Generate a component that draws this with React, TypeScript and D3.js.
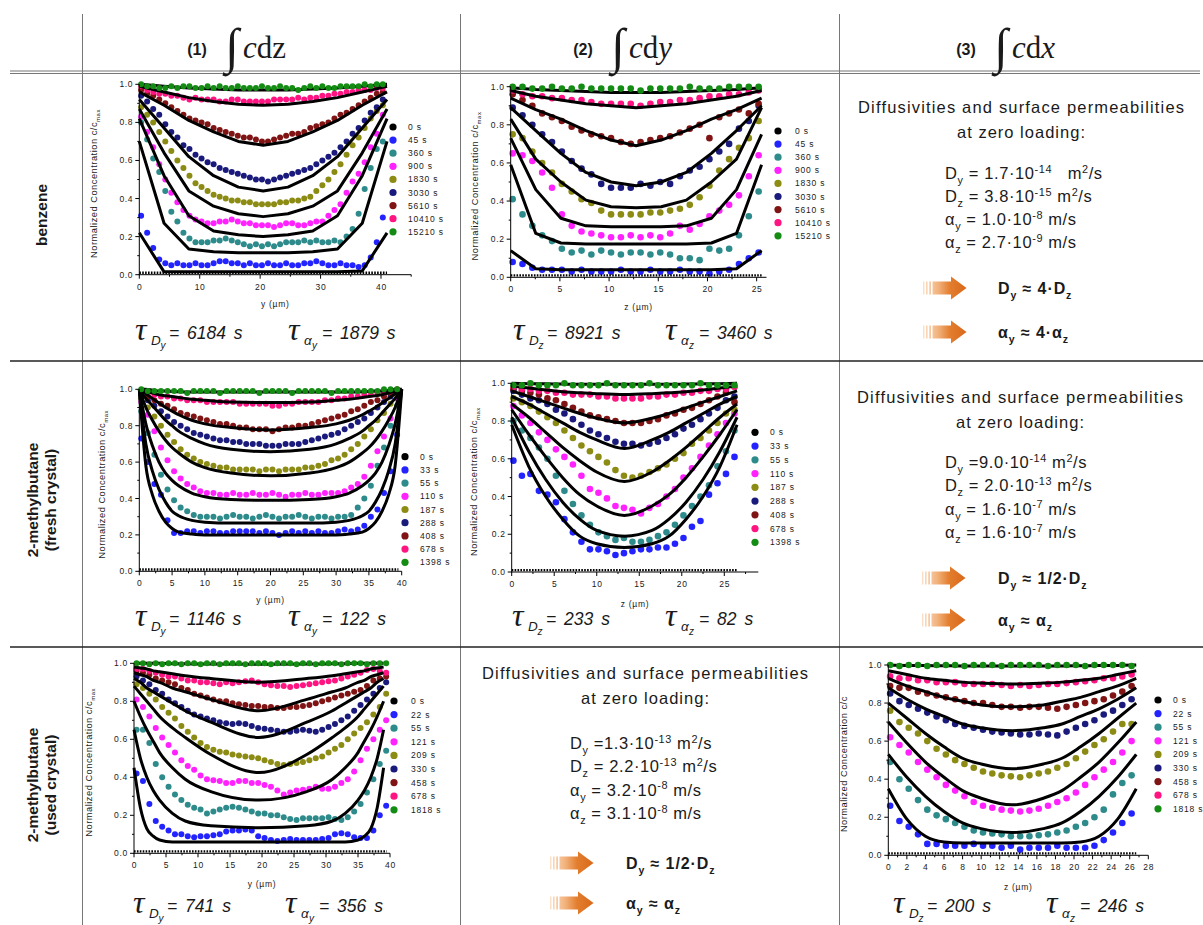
import React from "react";
import * as d3 from "d3";

const SANS = "'Liberation Sans', Arial, Helvetica, sans-serif";
const SERIF = "'Liberation Serif', 'Times New Roman', serif";
const NARROW = "'Liberation Sans Narrow', 'Arial Narrow', 'Liberation Sans', sans-serif";

const seriesColors = ["#000000", "#2323ff", "#2e8b8b", "#ff22ff", "#8c8c14", "#1a1a7d", "#801414", "#ff1482", "#148c14"];

const timesBenzene = ["0 s", "45 s", "360 s", "900 s", "1830 s", "3030 s", "5610 s", "10410 s", "15210 s"];
const timesFresh = ["0 s", "33 s", "55 s", "110 s", "187 s", "288 s", "408 s", "678 s", "1398 s"];
const timesUsed = ["0 s", "22 s", "55 s", "121 s", "209 s", "330 s", "458 s", "678 s", "1818 s"];

const yTickValues = [0, 0.2, 0.4, 0.6, 0.8, 1.0];

// ---------- Panel 1: benzene, integral c dz, profile along y ----------
const p1Grid = d3.range(0.3, 41, 1);
const p1_45 = [0.31,0.22,0.14,0.08,0.06,0.05,0.06,0.05,0.05,0.06,0.05,0.05,0.06,0.07,0.07,0.06,0.06,0.05,0.06,0.05,0.05,0.06,0.05,0.05,0.06,0.05,0.05,0.06,0.06,0.07,0.06,0.05,0.05,0.06,0.05,0.05,0.04,0.05,0.09,0.17,0.30];
const p1_360 = [0.80,0.71,0.61,0.54,0.44,0.33,0.28,0.22,0.19,0.17,0.17,0.17,0.18,0.18,0.19,0.18,0.17,0.16,0.15,0.16,0.15,0.16,0.15,0.16,0.17,0.17,0.17,0.18,0.17,0.18,0.17,0.17,0.18,0.17,0.20,0.24,0.32,0.45,0.56,0.66,0.70];
const p1_900 = [0.83,0.75,0.67,0.58,0.50,0.43,0.38,0.34,0.31,0.29,0.28,0.27,0.27,0.28,0.28,0.29,0.28,0.27,0.27,0.26,0.26,0.26,0.25,0.26,0.27,0.27,0.26,0.26,0.27,0.28,0.28,0.31,0.34,0.37,0.43,0.49,0.53,0.59,0.67,0.74,0.84];
const p1_1830 = [0.88,0.84,0.80,0.75,0.70,0.65,0.60,0.56,0.52,0.48,0.46,0.44,0.42,0.41,0.40,0.39,0.39,0.38,0.38,0.37,0.37,0.37,0.37,0.38,0.38,0.39,0.39,0.40,0.41,0.44,0.47,0.50,0.54,0.58,0.63,0.68,0.72,0.77,0.82,0.86,0.89];
const p1_3030 = [0.94,0.91,0.87,0.84,0.79,0.75,0.72,0.68,0.66,0.63,0.61,0.59,0.58,0.56,0.55,0.54,0.53,0.52,0.51,0.50,0.50,0.49,0.50,0.51,0.52,0.53,0.54,0.55,0.56,0.58,0.60,0.62,0.64,0.67,0.70,0.74,0.77,0.81,0.85,0.88,0.92];
const p1_5610 = [0.97,0.95,0.94,0.92,0.90,0.88,0.86,0.84,0.82,0.81,0.80,0.79,0.77,0.76,0.75,0.74,0.73,0.72,0.72,0.71,0.70,0.70,0.71,0.72,0.73,0.74,0.74,0.75,0.77,0.78,0.79,0.80,0.82,0.84,0.85,0.87,0.89,0.91,0.93,0.95,0.96];
const p1_10410 = [0.99,0.97,0.96,0.95,0.95,0.94,0.94,0.93,0.92,0.93,0.92,0.92,0.92,0.91,0.91,0.92,0.92,0.91,0.91,0.91,0.91,0.91,0.92,0.92,0.92,0.92,0.93,0.92,0.93,0.93,0.94,0.94,0.95,0.95,0.96,0.96,0.97,0.97,0.97,0.98,0.98];
const p1_15210 = [1.00,0.99,0.99,0.98,0.98,0.99,0.98,0.99,0.99,0.98,0.98,0.99,0.98,0.99,0.98,0.98,0.99,0.98,0.98,0.98,0.99,0.98,0.98,0.99,0.98,0.98,0.97,0.98,0.99,0.98,0.99,0.98,0.98,0.99,0.99,0.99,0.99,1.00,0.99,1.00,1.00];
const p1FitX = [0, 4.1, 8.2, 12.3, 16.4, 20.5, 24.6, 28.7, 32.8, 36.9, 41];
const p1f_45 = [0.22,0.015,0.015,0.015,0.015,0.015,0.015,0.015,0.015,0.02,0.22];
const p1f_360 = [0.70,0.27,0.135,0.12,0.115,0.115,0.115,0.12,0.135,0.27,0.70];
const p1f_900 = [0.82,0.52,0.31,0.23,0.21,0.20,0.21,0.23,0.31,0.52,0.82];
const p1f_1830 = [0.87,0.64,0.44,0.36,0.32,0.305,0.32,0.36,0.44,0.64,0.87];
const p1f_3030 = [0.92,0.77,0.62,0.52,0.46,0.44,0.46,0.52,0.62,0.77,0.92];
const p1f_5610 = [0.96,0.89,0.81,0.75,0.70,0.68,0.70,0.75,0.81,0.89,0.96];
const p1f_10410 = [0.99,0.96,0.93,0.91,0.895,0.89,0.895,0.91,0.93,0.96,0.99];
const p1f_15210 = [1.0,0.99,0.98,0.975,0.97,0.97,0.97,0.975,0.98,0.99,1.0];
const p1ZeroX = [0, 41];
const p1ZeroY = [0.01, 0.01];

// ---------- Panel 2: benzene, integral c dy, profile along z ----------
const p2Grid = d3.range(0.2, 26, 1);
const p2_45 = [0.08,0.07,0.05,0.04,0.04,0.04,0.03,0.04,0.03,0.03,0.03,0.04,0.03,0.03,0.04,0.03,0.03,0.04,0.03,0.03,0.02,0.03,0.04,0.07,0.10,0.13];
const p2_360 = [0.41,0.33,0.27,0.22,0.19,0.15,0.13,0.14,0.12,0.14,0.13,0.12,0.13,0.13,0.12,0.13,0.12,0.10,0.10,0.09,0.15,0.14,0.15,0.22,0.32,0.45];
const p2_900 = [0.65,0.64,0.61,0.55,0.47,0.33,0.27,0.24,0.23,0.22,0.21,0.21,0.22,0.21,0.22,0.21,0.23,0.27,0.25,0.28,0.32,0.35,0.38,0.43,0.53,0.64];
const p2_1830 = [0.75,0.73,0.66,0.60,0.55,0.49,0.45,0.41,0.39,0.35,0.33,0.33,0.33,0.33,0.34,0.34,0.35,0.36,0.38,0.42,0.48,0.56,0.62,0.68,0.73,0.82];
const p2_3030 = [0.89,0.85,0.80,0.75,0.71,0.66,0.61,0.57,0.54,0.49,0.47,0.47,0.47,0.49,0.48,0.50,0.49,0.53,0.56,0.58,0.62,0.66,0.70,0.78,0.82,0.90];
const p2_5610 = [0.96,0.93,0.90,0.86,0.84,0.82,0.79,0.77,0.75,0.74,0.73,0.71,0.70,0.71,0.72,0.73,0.74,0.76,0.78,0.80,0.73,0.84,0.86,0.88,0.86,0.91];
const p2_10410 = [0.98,0.96,0.95,0.95,0.94,0.94,0.93,0.93,0.92,0.91,0.91,0.91,0.91,0.90,0.91,0.92,0.92,0.93,0.93,0.94,0.95,0.95,0.96,0.96,0.97,0.98];
const p2_15210 = [1.00,1.00,0.99,0.99,1.00,0.99,0.99,1.00,0.99,0.99,0.99,0.99,0.99,0.98,0.99,0.99,0.99,0.99,1.00,0.99,0.99,0.99,1.00,1.00,1.00,1.00];
const p2FitX = [0, 2.55, 5.1, 7.65, 10.2, 12.75, 15.3, 17.85, 20.4, 22.95, 25.5];
const p2f_45 = [0.14,0.045,0.04,0.04,0.04,0.04,0.04,0.04,0.04,0.045,0.14];
const p2f_360 = [0.59,0.23,0.18,0.175,0.175,0.175,0.175,0.175,0.18,0.23,0.59];
const p2f_900 = [0.73,0.46,0.31,0.27,0.265,0.265,0.265,0.27,0.31,0.46,0.75];
const p2f_1830 = [0.83,0.62,0.50,0.405,0.37,0.365,0.37,0.405,0.50,0.62,0.89];
const p2f_3030 = [0.89,0.77,0.65,0.55,0.50,0.48,0.50,0.55,0.65,0.77,0.90];
const p2f_5610 = [0.94,0.88,0.83,0.77,0.72,0.69,0.72,0.77,0.83,0.88,0.94];
const p2f_10410 = [0.98,0.95,0.93,0.91,0.90,0.89,0.90,0.91,0.93,0.95,0.98];
const p2f_15210 = [0.995,0.985,0.98,0.975,0.97,0.97,0.97,0.975,0.98,0.985,0.995];
const p2ZeroX = [0, 25.5];
const p2ZeroY = [0.01, 0.01];

// ---------- Panel 3: 2-methylbutane fresh, integral c dz ----------
const p3Grid = d3.range(0.3, 40, 1);
const p3_33 = [0.73,0.60,0.48,0.42,0.28,0.21,0.21,0.22,0.22,0.21,0.22,0.22,0.21,0.21,0.22,0.22,0.22,0.22,0.21,0.22,0.21,0.20,0.21,0.22,0.21,0.22,0.21,0.22,0.21,0.21,0.22,0.23,0.22,0.23,0.25,0.30,0.34,0.43,0.55,0.75];
const p3_55 = [0.88,0.76,0.64,0.53,0.45,0.39,0.35,0.33,0.31,0.30,0.30,0.30,0.29,0.30,0.31,0.30,0.30,0.29,0.30,0.31,0.30,0.29,0.30,0.30,0.31,0.30,0.29,0.30,0.30,0.29,0.30,0.30,0.31,0.35,0.40,0.47,0.58,0.68,0.80,0.91];
const p3_110 = [0.93,0.86,0.77,0.68,0.61,0.55,0.51,0.48,0.46,0.44,0.43,0.43,0.42,0.42,0.43,0.42,0.42,0.43,0.42,0.42,0.43,0.42,0.41,0.42,0.42,0.43,0.42,0.42,0.43,0.43,0.43,0.44,0.46,0.48,0.52,0.58,0.66,0.74,0.84,0.95];
const p3_187 = [0.95,0.90,0.85,0.80,0.75,0.71,0.67,0.64,0.62,0.60,0.59,0.58,0.57,0.57,0.56,0.56,0.56,0.56,0.55,0.56,0.56,0.55,0.56,0.56,0.56,0.57,0.57,0.58,0.59,0.61,0.62,0.64,0.67,0.70,0.74,0.78,0.83,0.87,0.92,0.97];
const p3_288 = [0.97,0.94,0.91,0.88,0.85,0.82,0.80,0.78,0.76,0.75,0.74,0.73,0.72,0.72,0.71,0.71,0.70,0.70,0.70,0.69,0.69,0.69,0.70,0.70,0.70,0.71,0.72,0.73,0.74,0.75,0.76,0.78,0.80,0.82,0.84,0.87,0.90,0.93,0.96,0.99];
const p3_408 = [0.98,0.96,0.94,0.92,0.91,0.89,0.87,0.86,0.85,0.84,0.83,0.82,0.81,0.81,0.80,0.79,0.79,0.78,0.78,0.78,0.77,0.78,0.79,0.79,0.80,0.80,0.81,0.82,0.83,0.84,0.85,0.86,0.88,0.89,0.91,0.93,0.94,0.96,0.98,1.00];
const p3_678 = [0.99,0.98,0.97,0.96,0.96,0.95,0.95,0.94,0.94,0.94,0.93,0.93,0.93,0.93,0.93,0.92,0.92,0.92,0.92,0.92,0.91,0.91,0.92,0.92,0.93,0.93,0.93,0.93,0.94,0.94,0.95,0.95,0.96,0.96,0.97,0.97,0.98,0.98,0.99,0.99];
const p3_1398 = [1.00,0.99,0.99,0.99,0.99,0.99,0.99,0.98,0.99,0.99,0.99,0.99,0.98,0.99,0.99,0.99,0.99,0.99,0.98,0.99,0.99,0.99,0.99,0.98,0.99,0.99,0.99,0.99,0.99,0.98,0.99,0.99,0.99,0.99,0.99,0.99,0.99,1.00,1.00,1.00];
const p3FitX = [0, 1, 2, 3, 4, 5, 6, 8, 10, 14, 20, 26, 30, 32, 34, 35, 36, 37, 38, 39, 40];
const p3f_33 = [1.0,0.58,0.42,0.33,0.27,0.235,0.215,0.205,0.20,0.20,0.20,0.20,0.20,0.205,0.215,0.235,0.27,0.33,0.42,0.58,1.0];
const p3f_55 = [1.0,0.70,0.55,0.45,0.38,0.33,0.305,0.28,0.27,0.265,0.265,0.265,0.27,0.28,0.305,0.33,0.38,0.45,0.55,0.70,1.0];
const p3f_110 = [1.0,0.81,0.69,0.60,0.54,0.50,0.47,0.43,0.41,0.395,0.39,0.395,0.41,0.43,0.47,0.50,0.54,0.60,0.69,0.81,1.0];
const p3f_187 = [1.0,0.90,0.83,0.77,0.72,0.68,0.65,0.60,0.57,0.54,0.525,0.54,0.57,0.60,0.65,0.68,0.72,0.77,0.83,0.90,1.0];
const p3f_288 = [1.0,0.95,0.91,0.87,0.83,0.80,0.77,0.73,0.70,0.67,0.657,0.67,0.70,0.73,0.77,0.80,0.83,0.87,0.91,0.95,1.0];
const p3f_408 = [1.0,0.975,0.95,0.925,0.90,0.88,0.86,0.83,0.81,0.79,0.777,0.79,0.81,0.83,0.86,0.88,0.90,0.925,0.95,0.975,1.0];
const p3f_678 = [1.0,0.99,0.98,0.97,0.965,0.96,0.955,0.945,0.94,0.93,0.927,0.93,0.94,0.945,0.955,0.96,0.965,0.97,0.98,0.99,1.0];
const p3f_1398 = [1.0,1.0,0.995,0.99,0.99,0.988,0.986,0.985,0.985,0.985,0.985,0.985,0.985,0.985,0.986,0.988,0.99,0.99,0.995,1.0,1.0];
const p3ZeroX = [0, 39.5];
const p3ZeroY = [0.01, 0.01];

// ---------- Panel 4: 2-methylbutane fresh, integral c dy ----------
const p4Grid = d3.range(0.2, 27, 1);
const p4_33 = [0.59,0.51,0.52,0.43,0.41,0.37,0.28,0.21,0.16,0.12,0.12,0.11,0.09,0.10,0.11,0.12,0.12,0.13,0.13,0.15,0.18,0.24,0.27,0.41,0.47,0.52,0.61];
const p4_55 = [0.80,0.75,0.71,0.66,0.60,0.51,0.43,0.36,0.30,0.25,0.21,0.19,0.17,0.18,0.16,0.16,0.17,0.19,0.21,0.25,0.30,0.35,0.40,0.46,0.56,0.64,0.75];
const p4_110 = [0.88,0.83,0.79,0.74,0.70,0.65,0.61,0.57,0.51,0.44,0.42,0.39,0.35,0.34,0.33,0.31,0.34,0.36,0.40,0.44,0.50,0.55,0.61,0.67,0.73,0.79,0.84];
const p4_187 = [0.92,0.90,0.88,0.85,0.82,0.79,0.75,0.71,0.67,0.64,0.61,0.58,0.54,0.51,0.50,0.51,0.53,0.55,0.57,0.60,0.63,0.68,0.71,0.75,0.79,0.84,0.86];
const p4_288 = [0.96,0.94,0.92,0.91,0.89,0.86,0.84,0.81,0.78,0.75,0.73,0.71,0.69,0.68,0.68,0.67,0.68,0.69,0.71,0.73,0.76,0.78,0.81,0.84,0.87,0.91,0.93];
const p4_408 = [0.97,0.96,0.95,0.94,0.92,0.91,0.89,0.87,0.85,0.83,0.82,0.81,0.80,0.79,0.79,0.79,0.80,0.81,0.83,0.84,0.86,0.87,0.89,0.91,0.93,0.95,0.90];
const p4_678 = [0.98,0.97,0.97,0.96,0.96,0.95,0.95,0.94,0.94,0.94,0.93,0.93,0.92,0.92,0.92,0.92,0.93,0.93,0.94,0.94,0.95,0.95,0.96,0.96,0.97,0.97,0.98];
const p4_1398 = [0.99,0.99,1.00,0.99,0.99,0.99,1.00,0.99,0.99,0.99,0.99,1.00,0.99,0.99,0.99,0.99,1.00,0.99,0.99,0.99,0.99,0.99,1.00,0.99,0.99,0.99,0.99];
const p4FitX = [0, 2, 4, 6, 8, 10, 13.25, 16.5, 18.5, 20.5, 22.5, 24.5, 26.5];
const p4f_33 = [0.78,0.56,0.40,0.28,0.19,0.15,0.13,0.15,0.19,0.28,0.40,0.56,0.78];
const p4f_55 = [0.82,0.64,0.49,0.37,0.28,0.22,0.19,0.22,0.28,0.37,0.49,0.64,0.82];
const p4f_110 = [0.86,0.73,0.61,0.50,0.41,0.35,0.30,0.35,0.41,0.50,0.61,0.73,0.86];
const p4f_187 = [0.89,0.82,0.74,0.66,0.59,0.53,0.48,0.53,0.59,0.66,0.74,0.82,0.89];
const p4f_288 = [0.93,0.89,0.84,0.79,0.74,0.70,0.655,0.70,0.74,0.79,0.84,0.89,0.93];
const p4f_408 = [0.96,0.93,0.90,0.87,0.84,0.815,0.79,0.815,0.84,0.87,0.90,0.93,0.96];
const p4f_678 = [0.985,0.975,0.965,0.955,0.95,0.945,0.94,0.945,0.95,0.955,0.965,0.975,0.985];
const p4f_1398 = [1.0,0.998,0.997,0.996,0.995,0.995,0.995,0.995,0.995,0.996,0.997,0.998,1.0];
const p4ZeroX = [0, 26.5];
const p4ZeroY = [0.01, 0.01];

// ---------- Panel 5: 2-methylbutane used, integral c dz ----------
const p5Grid = d3.range(0.4, 40, 1);
const p5_22 = [0.42,0.38,0.26,0.17,0.14,0.12,0.10,0.10,0.09,0.085,0.09,0.09,0.095,0.10,0.115,0.12,0.12,0.125,0.12,0.09,0.08,0.07,0.065,0.07,0.075,0.07,0.07,0.07,0.07,0.075,0.08,0.10,0.105,0.10,0.085,0.08,0.08,0.12,0.20,0.25];
const p5_55 = [0.65,0.65,0.58,0.47,0.40,0.35,0.31,0.28,0.255,0.24,0.23,0.21,0.22,0.23,0.24,0.245,0.24,0.23,0.22,0.21,0.21,0.20,0.20,0.19,0.18,0.175,0.185,0.185,0.185,0.185,0.19,0.18,0.175,0.19,0.22,0.26,0.32,0.39,0.47,0.54];
const p5_121 = [0.81,0.77,0.72,0.66,0.61,0.57,0.53,0.49,0.46,0.44,0.41,0.39,0.385,0.38,0.37,0.37,0.38,0.38,0.37,0.37,0.36,0.35,0.33,0.31,0.32,0.33,0.335,0.34,0.35,0.34,0.34,0.35,0.37,0.39,0.43,0.49,0.55,0.60,0.65,0.70];
const p5_209 = [0.89,0.87,0.84,0.81,0.77,0.74,0.71,0.67,0.64,0.61,0.58,0.56,0.545,0.535,0.53,0.52,0.515,0.51,0.505,0.50,0.49,0.48,0.47,0.465,0.47,0.475,0.48,0.49,0.50,0.51,0.53,0.55,0.57,0.60,0.63,0.66,0.69,0.73,0.77,0.84];
const p5_330 = [0.93,0.91,0.89,0.86,0.84,0.81,0.79,0.77,0.75,0.73,0.72,0.71,0.70,0.69,0.685,0.68,0.685,0.68,0.67,0.66,0.655,0.65,0.645,0.64,0.64,0.645,0.65,0.645,0.64,0.65,0.665,0.68,0.70,0.72,0.75,0.78,0.81,0.84,0.87,0.90];
const p5_458 = [0.96,0.95,0.94,0.92,0.91,0.90,0.89,0.87,0.86,0.84,0.83,0.82,0.81,0.80,0.80,0.79,0.785,0.78,0.775,0.775,0.77,0.77,0.765,0.765,0.77,0.77,0.775,0.78,0.79,0.80,0.81,0.82,0.83,0.84,0.85,0.86,0.88,0.91,0.92,0.93];
const p5_678 = [0.97,0.97,0.96,0.95,0.94,0.93,0.93,0.92,0.91,0.91,0.90,0.90,0.895,0.89,0.90,0.895,0.90,0.905,0.91,0.90,0.89,0.885,0.88,0.88,0.875,0.88,0.885,0.89,0.895,0.90,0.905,0.91,0.92,0.93,0.94,0.95,0.965,0.97,0.96,0.95];
const p5_1818 = [1.0,1.0,0.995,1.0,0.995,1.0,1.0,0.995,1.0,1.0,0.995,1.0,1.0,0.995,1.0,1.0,1.0,0.995,1.0,1.0,1.0,0.995,1.0,1.0,1.0,0.995,1.0,1.0,0.995,1.0,1.0,1.0,0.995,1.0,1.0,1.0,0.995,1.0,1.0,1.0];
const p5FitX = [0, 1, 2, 3, 4, 6, 8, 12, 19.5, 27, 31, 33, 35, 36, 37, 38, 39];
const p5f_22 = [0.45,0.24,0.13,0.09,0.07,0.06,0.06,0.06,0.06,0.06,0.06,0.06,0.07,0.09,0.13,0.24,0.45];
const p5f_55 = [0.65,0.50,0.40,0.33,0.28,0.21,0.17,0.145,0.135,0.145,0.17,0.21,0.28,0.33,0.40,0.50,0.65];
const p5f_121 = [0.80,0.72,0.65,0.59,0.53,0.45,0.39,0.325,0.28,0.325,0.39,0.45,0.53,0.59,0.65,0.72,0.80];
const p5f_209 = [0.88,0.84,0.80,0.76,0.72,0.66,0.61,0.52,0.425,0.52,0.61,0.66,0.72,0.76,0.80,0.84,0.88];
const p5f_330 = [0.92,0.90,0.87,0.85,0.83,0.79,0.75,0.69,0.61,0.69,0.75,0.79,0.83,0.85,0.87,0.90,0.92];
const p5f_458 = [0.95,0.94,0.93,0.91,0.90,0.87,0.85,0.81,0.75,0.81,0.85,0.87,0.90,0.91,0.93,0.94,0.95];
const p5f_678 = [0.98,0.975,0.97,0.96,0.955,0.945,0.935,0.92,0.90,0.92,0.935,0.945,0.955,0.96,0.97,0.975,0.98];
const p5f_1818 = [1.0,1.0,1.0,1.0,1.0,0.998,0.997,0.996,0.995,0.996,0.997,0.998,1.0,1.0,1.0,1.0,1.0];
const p5ZeroX = [0, 39.5];
const p5ZeroY = [0.01, 0.01];

// ---------- Panel 6: 2-methylbutane used, integral c dx ----------
const p6Grid = d3.range(0.2, 27, 1);
const p6_22 = [0.26,0.18,0.15,0.11,0.06,0.06,0.05,0.05,0.05,0.06,0.05,0.05,0.04,0.05,0.03,0.04,0.04,0.04,0.05,0.04,0.04,0.04,0.05,0.08,0.12,0.17,0.22];
const p6_55 = [0.49,0.40,0.35,0.29,0.24,0.21,0.19,0.17,0.15,0.13,0.12,0.115,0.11,0.10,0.10,0.10,0.105,0.11,0.12,0.13,0.15,0.17,0.20,0.24,0.32,0.38,0.42];
const p6_121 = [0.62,0.58,0.54,0.49,0.45,0.41,0.37,0.34,0.31,0.28,0.26,0.25,0.24,0.235,0.23,0.235,0.245,0.26,0.28,0.30,0.33,0.37,0.41,0.45,0.49,0.54,0.60];
const p6_209 = [0.76,0.70,0.67,0.64,0.60,0.56,0.53,0.50,0.48,0.46,0.44,0.43,0.42,0.415,0.41,0.42,0.43,0.44,0.46,0.48,0.51,0.545,0.58,0.61,0.65,0.69,0.69];
const p6_330 = [0.85,0.81,0.79,0.77,0.75,0.73,0.71,0.69,0.68,0.67,0.66,0.65,0.645,0.64,0.635,0.635,0.64,0.635,0.63,0.65,0.67,0.69,0.71,0.74,0.76,0.79,0.82];
const p6_458 = [0.89,0.88,0.88,0.86,0.85,0.84,0.83,0.82,0.81,0.80,0.80,0.79,0.78,0.78,0.775,0.78,0.78,0.775,0.77,0.78,0.79,0.80,0.81,0.82,0.84,0.86,0.89];
const p6_678 = [0.94,0.93,0.93,0.92,0.92,0.91,0.91,0.91,0.90,0.90,0.90,0.90,0.895,0.89,0.895,0.89,0.895,0.90,0.90,0.905,0.91,0.915,0.92,0.93,0.93,0.94,0.95];
const p6_1818 = [1.0,0.995,1.0,1.0,0.995,1.0,1.0,1.0,0.995,1.0,1.0,1.0,0.995,1.0,1.0,1.0,1.0,0.995,1.0,1.0,1.0,0.995,1.0,1.0,1.0,1.0,0.995];
const p6FitX = [0, 2, 4, 6, 8, 10, 13.35, 16.7, 18.7, 20.7, 22.7, 24.7, 26.7];
const p6f_22 = [0.35,0.19,0.10,0.07,0.065,0.065,0.065,0.065,0.065,0.07,0.10,0.19,0.35];
const p6f_55 = [0.53,0.41,0.31,0.23,0.17,0.14,0.12,0.14,0.17,0.23,0.31,0.41,0.53];
const p6f_121 = [0.70,0.59,0.49,0.41,0.34,0.30,0.265,0.30,0.34,0.41,0.49,0.59,0.70];
const p6f_209 = [0.80,0.72,0.64,0.57,0.51,0.48,0.455,0.48,0.51,0.57,0.64,0.72,0.80];
const p6f_330 = [0.88,0.82,0.77,0.73,0.69,0.67,0.655,0.67,0.69,0.73,0.77,0.82,0.88];
const p6f_458 = [0.93,0.89,0.86,0.83,0.81,0.79,0.78,0.79,0.81,0.83,0.86,0.89,0.93];
const p6f_678 = [0.97,0.95,0.93,0.92,0.91,0.905,0.90,0.905,0.91,0.92,0.93,0.95,0.97];
const p6f_1818 = [1.0,0.998,0.997,0.996,0.995,0.995,0.995,0.995,0.995,0.996,0.997,0.998,1.0];
const p6ZeroX = [0, 26.7];
const p6ZeroY = [0.01, 0.01];

// ---------- text blocks ----------
type Seg = [string, string];
const benzeneParams: Seg[][] = [
  [["D", "n"], ["y", "sub"], [" = 1.7·10", "n"], ["-14", "sup"], ["   m", "n"], ["2", "sup"], ["/s", "n"]],
  [["D", "n"], ["z", "sub"], [" = 3.8·10", "n"], ["-15", "sup"], [" m", "n"], ["2", "sup"], ["/s", "n"]],
  [["α", "n"], ["y", "sub"], [" = 1.0·10", "n"], ["-8", "sup"], [" m/s", "n"]],
  [["α", "n"], ["z", "sub"], [" = 2.7·10", "n"], ["-9", "sup"], [" m/s", "n"]],
];
const benzeneResults: Seg[][] = [
  [["D", "n"], ["y", "sub"], [" ≈ 4·D", "n"], ["z", "sub"]],
  [["α", "n"], ["y", "sub"], [" ≈ 4·α", "n"], ["z", "sub"]],
];
const freshParams: Seg[][] = [
  [["D", "n"], ["y", "sub"], [" =9.0·10", "n"], ["-14", "sup"], [" m", "n"], ["2", "sup"], ["/s", "n"]],
  [["D", "n"], ["z", "sub"], [" = 2.0·10", "n"], ["-13", "sup"], [" m", "n"], ["2", "sup"], ["/s", "n"]],
  [["α", "n"], ["y", "sub"], [" = 1.6·10", "n"], ["-7", "sup"], [" m/s", "n"]],
  [["α", "n"], ["z", "sub"], [" = 1.6·10", "n"], ["-7", "sup"], [" m/s", "n"]],
];
const usedParams: Seg[][] = [
  [["D", "n"], ["y", "sub"], [" =1.3·10", "n"], ["-13", "sup"], [" m", "n"], ["2", "sup"], ["/s", "n"]],
  [["D", "n"], ["z", "sub"], [" = 2.2·10", "n"], ["-13", "sup"], [" m", "n"], ["2", "sup"], ["/s", "n"]],
  [["α", "n"], ["y", "sub"], [" = 3.2·10", "n"], ["-8", "sup"], [" m/s", "n"]],
  [["α", "n"], ["z", "sub"], [" = 3.1·10", "n"], ["-8", "sup"], [" m/s", "n"]],
];
const methylResults: Seg[][] = [
  [["D", "n"], ["y", "sub"], [" ≈ 1/2·D", "n"], ["z", "sub"]],
  [["α", "n"], ["y", "sub"], [" ≈ α", "n"], ["z", "sub"]],
];

// ---------- panel layout configs ----------
const panels = [
  {
    id: "p1", left: 139.3, right: 411.2, top: 84.3, bottom: 274.7, xMax: 45,
    xTicks: [0, 10, 20, 30, 40], xMinorStep: 5, grid: p1Grid, r: 3.0,
    series: [p1_45, p1_360, p1_900, p1_1830, p1_3030, p1_5610, p1_10410, p1_15210],
    fitX: p1FitX, fits: [p1f_45, p1f_360, p1f_900, p1f_1830, p1f_3030, p1f_5610, p1f_10410, p1f_15210],
    zeroX: p1ZeroX, zeroY: p1ZeroY, smooth: false, labels: timesBenzene,
    legX: 393, legTx: 408, legY: 127, legDy: 13.1, yTitleX: 97, max: true,
    xTitle: "y (µm)", xTitleY: 307,
    tau: [{ x: 135, s1: "D", s2: "y", t: "= 6184 s" }, { x: 288, s1: "α", s2: "y", t: "= 1879 s" }], tauY: 339,
  },
  {
    id: "p2", left: 510.7, right: 766.5, top: 86.7, bottom: 277.3, xMax: 26,
    xTicks: [0, 5, 10, 15, 20, 25], xMinorStep: 2.5, grid: p2Grid, r: 3.3,
    series: [p2_45, p2_360, p2_900, p2_1830, p2_3030, p2_5610, p2_10410, p2_15210],
    fitX: p2FitX, fits: [p2f_45, p2f_360, p2f_900, p2f_1830, p2f_3030, p2f_5610, p2f_10410, p2f_15210],
    zeroX: p2ZeroX, zeroY: p2ZeroY, smooth: false, labels: timesBenzene,
    legX: 778, legTx: 795, legY: 131, legDy: 13.1, yTitleX: 478, max: true,
    xTitle: "z (µm)", xTitleY: 310,
    tau: [{ x: 513, s1: "D", s2: "z", t: "= 8921 s" }, { x: 665, s1: "α", s2: "z", t: "= 3460 s" }], tauY: 339,
  },
  {
    id: "p3", left: 139.3, right: 401.7, top: 389.3, bottom: 571.3, xMax: 40,
    xTicks: [0, 5, 10, 15, 20, 25, 30, 35, 40], xMinorStep: 2.5, grid: p3Grid, r: 3.0,
    series: [p3_33, p3_55, p3_110, p3_187, p3_288, p3_408, p3_678, p3_1398],
    fitX: p3FitX, fits: [p3f_33, p3f_55, p3f_110, p3f_187, p3f_288, p3f_408, p3f_678, p3f_1398],
    zeroX: p3ZeroX, zeroY: p3ZeroY, smooth: true, labels: timesFresh,
    legX: 405, legTx: 420, legY: 456.7, legDy: 13.2, yTitleX: 105, max: true,
    xTitle: "y (µm)", xTitleY: 603,
    tau: [{ x: 135, s1: "D", s2: "y", t: "= 1146 s" }, { x: 288, s1: "α", s2: "y", t: "= 122 s" }], tauY: 625,
  },
  {
    id: "p4", left: 511.7, right: 758.3, top: 383.3, bottom: 572, xMax: 29,
    xTicks: [0, 5, 10, 15, 20, 25], xMinorStep: 2.5, grid: p4Grid, r: 3.3,
    series: [p4_33, p4_55, p4_110, p4_187, p4_288, p4_408, p4_678, p4_1398],
    fitX: p4FitX, fits: [p4f_33, p4f_55, p4f_110, p4f_187, p4f_288, p4f_408, p4f_678, p4f_1398],
    zeroX: p4ZeroX, zeroY: p4ZeroY, smooth: true, labels: timesFresh,
    legX: 755, legTx: 770, legY: 432.3, legDy: 13.75, yTitleX: 477, max: true,
    xTitle: "z (µm)", xTitleY: 607,
    tau: [{ x: 512, s1: "D", s2: "z", t: "= 233 s" }, { x: 665, s1: "α", s2: "z", t: "= 82 s" }], tauY: 625,
  },
  {
    id: "p5", left: 134, right: 390, top: 663.3, bottom: 853.3, xMax: 40,
    xTicks: [0, 5, 10, 15, 20, 25, 30, 35, 40], xMinorStep: 2.5, grid: p5Grid, r: 3.0,
    series: [p5_22, p5_55, p5_121, p5_209, p5_330, p5_458, p5_678, p5_1818],
    fitX: p5FitX, fits: [p5f_22, p5f_55, p5f_121, p5f_209, p5f_330, p5f_458, p5f_678, p5f_1818],
    zeroX: p5ZeroX, zeroY: p5ZeroY, smooth: true, labels: timesUsed,
    legX: 394, legTx: 411, legY: 701, legDy: 13.6, yTitleX: 92, max: true,
    xTitle: "y (µm)", xTitleY: 887,
    tau: [{ x: 133, s1: "D", s2: "y", t: "= 741 s" }, { x: 285, s1: "α", s2: "y", t: "= 356 s" }], tauY: 912,
  },
  {
    id: "p6", left: 888.3, right: 1148.3, top: 665, bottom: 855.3, xMax: 28,
    xTicks: d3.range(0, 29, 2), xMinorStep: 1, grid: p6Grid, r: 3.3,
    series: [p6_22, p6_55, p6_121, p6_209, p6_330, p6_458, p6_678, p6_1818],
    fitX: p6FitX, fits: [p6f_22, p6f_55, p6f_121, p6f_209, p6f_330, p6f_458, p6f_678, p6f_1818],
    zeroX: p6ZeroX, zeroY: p6ZeroY, smooth: true, labels: timesUsed,
    legX: 1158, legTx: 1173, legY: 700, legDy: 13.6, yTitleX: 847, max: false,
    xTitle: "z (µm)", xTitleY: 890,
    tau: [{ x: 893, s1: "D", s2: "z", t: "= 200 s" }, { x: 1046, s1: "α", s2: "z", t: "= 246 s" }], tauY: 912,
  },
];

const TICK_FONT = 8.5;
const INK = "#1a1a1a";

function Tau({ x0, y0, s1, s2, t }: any) {
  const isD = s1 === "D";
  return (
    <g fill={INK}>
      <text x={x0} y={y0 + 1} fontFamily={SERIF} fontStyle="italic" fontSize={32}>τ</text>
      <text x={x0 + 16} y={y0 + 6} fontFamily={SANS} fontStyle="italic" fontSize={13.5}>{s1}</text>
      <text x={x0 + (isD ? 25.5 : 24)} y={y0 + 10} fontFamily={SANS} fontStyle="italic" fontSize={10}>{s2}</text>
      <text x={x0 + 34} y={y0} fontFamily={SANS} fontStyle="italic" fontSize={17.5} wordSpacing={3}>{t}</text>
    </g>
  );
}

function Dots({ c, k, x, y }: any) {
  const vals: number[] = c.series[k];
  return (
    <g fill={seriesColors[k + 1]}>
      {vals.map((v: number, i: number) => (
        <circle key={i} cx={x(c.grid[i])} cy={y(v)} r={c.r} />
      ))}
    </g>
  );
}

function Panel({ c }: any) {
  const x = d3.scaleLinear().domain([0, c.xMax]).range([c.left, c.right]);
  const y = d3.scaleLinear().domain([0, 1]).range([c.bottom, c.top]);
  const fitLine = d3
    .line<number>()
    .x((_d: number, i: number) => x(c.fitX[i]))
    .y((d: number) => y(d))
    .curve(c.smooth ? d3.curveMonotoneX : d3.curveLinear);
  const zeroLine = d3
    .line<number>()
    .x((_d: number, i: number) => x(c.zeroX[i]))
    .y((d: number) => y(d));
  const yMinor = [0.1, 0.3, 0.5, 0.7, 0.9];
  const xMinor = d3
    .range(c.xMinorStep, c.xMax + 1e-6, c.xMinorStep)
    .filter((v: number) => !c.xTicks.some((m: number) => Math.abs(m - v) < 1e-6));
  const midY = (c.top + c.bottom) / 2;
  const midX = (c.left + c.right) / 2;
  const last = c.series.length - 1;
  return (
    <g>
      {/* data points (all but the saturated last one) */}
      {c.series.slice(0, last).map((_v: number[], k: number) => (
        <Dots key={"s" + k} c={c} k={k} x={x} y={y} />
      ))}
      {/* 0 s series */}
      <path d={zeroLine(c.zeroY) || ""} stroke="#000" strokeWidth={2.4} strokeDasharray="1.6,1.3" fill="none" />
      {/* fitted curves */}
      {c.fits.map((f: number[], k: number) => (
        <path key={"f" + k} d={fitLine(f) || ""} stroke="#000" strokeWidth={3} fill="none" strokeLinejoin="round" />
      ))}
      {/* last (near-saturated) series on top */}
      <Dots c={c} k={last} x={x} y={y} />
      {/* axes */}
      <g stroke="#000" strokeWidth={1}>
        <line x1={c.left} x2={c.left} y1={c.bottom + 0.5} y2={c.top} />
        <line x1={c.left - 0.5} x2={c.right} y1={c.bottom} y2={c.bottom} />
        {yTickValues.map((v) => (
          <line key={"ym" + v} x1={c.left - 4} x2={c.left} y1={y(v)} y2={y(v)} />
        ))}
        {yMinor.map((v) => (
          <line key={"yn" + v} x1={c.left - 2} x2={c.left} y1={y(v)} y2={y(v)} />
        ))}
        {c.xTicks.map((v: number) => (
          <line key={"xm" + v} x1={x(v)} x2={x(v)} y1={c.bottom} y2={c.bottom + 4} />
        ))}
        {xMinor.map((v: number) => (
          <line key={"xn" + v} x1={x(v)} x2={x(v)} y1={c.bottom} y2={c.bottom + 2} />
        ))}
      </g>
      <g fontFamily={SANS} fontSize={TICK_FONT} fill={INK} letterSpacing={0.7}>
        {yTickValues.map((v) => (
          <text key={"yl" + v} x={c.left - 6} y={y(v) + 3} textAnchor="end">{d3.format(".1f")(v)}</text>
        ))}
        {c.xTicks.map((v: number) => (
          <text key={"xl" + v} x={x(v) + 0.4} y={c.bottom + 15} textAnchor="middle">{v}</text>
        ))}
        <text x={midX} y={c.xTitleY} textAnchor="middle">{c.xTitle}</text>
      </g>
      <text
        transform={`translate(${c.yTitleX},${midY + 4}) rotate(-90)`}
        fontFamily={SANS}
        fontSize={9.3}
        letterSpacing={0.5}
        fill={INK}
        textAnchor="middle"
      >
        Normalized Concentration c/c
        {c.max ? <tspan fontSize={6} dy={2.5}>max</tspan> : null}
      </text>
      {/* legend */}
      <g fontFamily={SANS} fontSize={TICK_FONT} fill={INK} letterSpacing={0.8}>
        {c.labels.map((lab: string, j: number) => (
          <g key={"lg" + j}>
            <circle cx={c.legX} cy={c.legY + j * c.legDy} r={3.6} fill={seriesColors[j]} />
            <text x={c.legTx} y={c.legY + j * c.legDy + 3}>{lab}</text>
          </g>
        ))}
      </g>
      {c.tau.map((t: any, i: number) => (
        <Tau key={"t" + i} x0={t.x} y0={c.tauY} s1={t.s1} s2={t.s2} t={t.t} />
      ))}
    </g>
  );
}

function RichText({ x, y, segs, size, weight, spacing }: any) {
  let cur = 0;
  const small = size * 0.66;
  return (
    <text x={x} y={y} fontFamily={SANS} fontSize={size} fontWeight={weight} fill={INK} letterSpacing={spacing} xmlSpace="preserve" style={{ whiteSpace: "pre" }}>
      {segs.map(([t, k]: Seg, i: number) => {
        const target = k === "sub" ? size * 0.3 : k === "sup" ? -size * 0.38 : 0;
        const dy = target - cur;
        cur = target;
        return (
          <tspan key={i} dy={dy} fontSize={k === "n" ? size : small}>
            {t}
          </tspan>
        );
      })}
    </text>
  );
}

function Arrow({ x, y }: any) {
  const d =
    "M0,-6.5h1.4v13h-1.4z M3,-6.5h1.6v13h-1.6z M6.2,-6.5h1.8v13h-1.8z M9.5,-6.5H28V-11.5L43.5,0L28,11.5V6.5H9.5z";
  return <path transform={`translate(${x},${y})`} d={d} fill="url(#arrowGrad)" />;
}

function InfoBlock({ cx, titleY, left, paramY0, paramDy, params, arrowX, arrowYs, textX, results }: any) {
  return (
    <g>
      <text x={cx} y={titleY} textAnchor="middle" fontFamily={SANS} fontSize={16.5} fill={INK} textLength={326} lengthAdjust="spacing">
        Diffusivities and surface permeabilities
      </text>
      <text x={cx} y={titleY + 25} textAnchor="middle" fontFamily={SANS} fontSize={16.5} fill={INK} textLength={128} lengthAdjust="spacing">
        at zero loading:
      </text>
      {params.map((segs: Seg[], i: number) => (
        <RichText key={i} x={left} y={paramY0 + i * paramDy} segs={segs} size={16.5} weight={400} spacing={0.6} />
      ))}
      {arrowYs.map((ay: number, i: number) => (
        <g key={"a" + i}>
          <Arrow x={arrowX} y={ay} />
          <RichText x={textX} y={ay + 6} segs={results[i]} size={16} weight={700} spacing={0.9} />
        </g>
      ))}
    </g>
  );
}

function Header({ cx, num, last, lastItalic }: any) {
  return (
    <g fill={INK}>
      <text x={cx} y={55} textAnchor="middle" fontFamily={NARROW} fontWeight={700} fontSize={16}>{num}</text>
      <text x={cx + 28} y={63} fontFamily={SERIF} fontStyle="italic" fontSize={50}>∫</text>
      <text x={cx + 46} y={58} fontFamily={SERIF} fontSize={31}>
        <tspan fontStyle="italic">c</tspan>
        <tspan>d</tspan>
        <tspan fontStyle={lastItalic ? "italic" : "normal"}>{last}</tspan>
      </text>
    </g>
  );
}

function RowLabel({ cx, cy, lines }: any) {
  return (
    <text transform={`translate(${cx},${cy}) rotate(-90)`} textAnchor="middle" fontFamily={NARROW} fontWeight={700} fontSize={15.5} fill={INK}>
      {lines.map((l: string, i: number) => (
        <tspan key={i} x={0} dy={i === 0 ? 0 : 18}>{l}</tspan>
      ))}
    </text>
  );
}

export default function App() {
  return (
    <div style={{ position: "absolute", left: 0, top: 0, width: 1203, height: 925, background: "#fff" }}>
      <svg width={1203} height={925} viewBox="0 0 1203 925" style={{ display: "block" }}>
        <defs>
          <linearGradient id="arrowGrad" x1="0" x2="1" y1="0" y2="0">
            <stop offset="0" stopColor="#fbe0c8" />
            <stop offset="0.35" stopColor="#f2b27c" />
            <stop offset="0.62" stopColor="#e37e2f" />
            <stop offset="1" stopColor="#d9681a" />
          </linearGradient>
        </defs>
        <rect x={0} y={0} width={1203} height={925} fill="#fff" />
        {/* table lines */}
        <g stroke="#777" strokeWidth={1}>
          <line x1={10} x2={1200} y1={71} y2={71} />
          <line x1={10} x2={1200} y1={73.5} y2={73.5} />
          <line x1={82.5} x2={82.5} y1={14} y2={925} />
          <line x1={460.5} x2={460.5} y1={14} y2={925} />
          <line x1={839.5} x2={839.5} y1={14} y2={925} />
        </g>
        <g stroke="#222" strokeWidth={1.6}>
          <line x1={10} x2={1203} y1={361} y2={361} />
          <line x1={10} x2={1203} y1={647} y2={647} />
        </g>
        <Header cx={197} num="(1)" last="z" lastItalic={false} />
        <Header cx={583} num="(2)" last="y" lastItalic={true} />
        <Header cx={966} num="(3)" last="x" lastItalic={true} />
        <RowLabel cx={47} cy={215} lines={["benzene"]} />
        <RowLabel cx={38} cy={500} lines={["2-methylbutane", "(fresh crystal)"]} />
        <RowLabel cx={38} cy={785} lines={["2-methylbutane", "(used crystal)"]} />
        {panels.map((p) => (
          <Panel key={p.id} c={p} />
        ))}
        <InfoBlock cx={1021} titleY={113} left={945} paramY0={179} paramDy={23} params={benzeneParams}
          arrowX={923} arrowYs={[288, 332]} textX={998} results={benzeneResults} />
        <InfoBlock cx={1020} titleY={403} left={945} paramY0={468} paramDy={23.3} params={freshParams}
          arrowX={922} arrowYs={[578, 620]} textX={998} results={methylResults} />
        <InfoBlock cx={645} titleY={679} left={570} paramY0={749} paramDy={23.3} params={usedParams}
          arrowX={550} arrowYs={[863, 903]} textX={626} results={methylResults} />
      </svg>
    </div>
  );
}
